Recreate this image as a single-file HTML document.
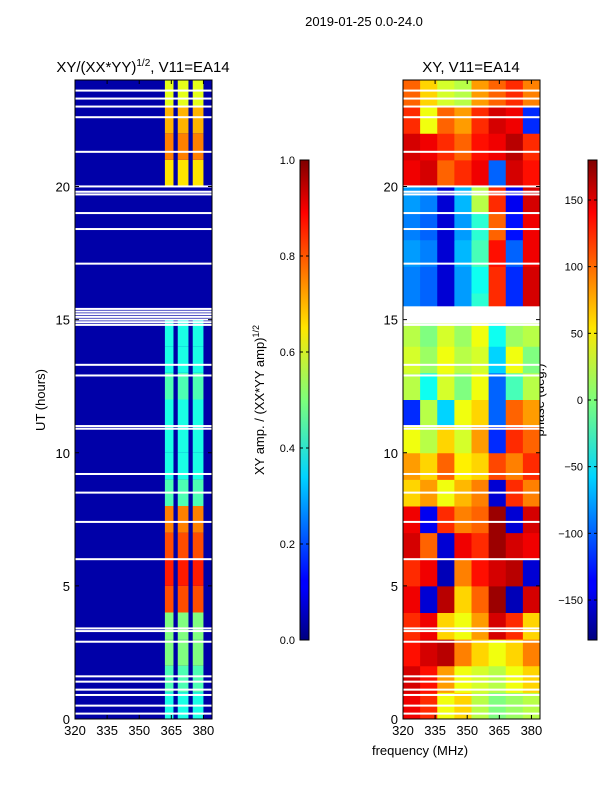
<!DOCTYPE html>
<html><head><meta charset="utf-8"><style>
body{margin:0;background:#fff;font-family:"Liberation Sans",sans-serif}
svg text{font-family:"Liberation Sans",sans-serif;fill:#000}
</style></head><body>
<svg id="fig" width="600" height="800" xmlns="http://www.w3.org/2000/svg">
<text x="364" y="26" font-size="13" text-anchor="middle">2019-01-25 0.0-24.0</text>
<text x="143" y="72" font-size="15" text-anchor="middle">XY/(XX*YY)<tspan font-size="10" dy="-6">1/2</tspan><tspan dy="6">, V11=EA14</tspan></text>
<text x="471" y="72" font-size="15" text-anchor="middle">XY, V11=EA14</text>
<text transform="translate(45,400) rotate(-90)" font-size="13" text-anchor="middle">UT (hours)</text>
<text x="420" y="755" font-size="13" text-anchor="middle">frequency (MHz)</text>
<text transform="translate(264,400) rotate(-90)" font-size="13" text-anchor="middle">XY amp. / (XX*YY amp)<tspan font-size="9" dy="-5">1/2</tspan></text>
<text transform="translate(544,400) rotate(-90)" font-size="13" text-anchor="middle">phase (deg.)</text>
<defs>
<linearGradient id="jet" x1="0" y1="1" x2="0" y2="0">
<stop offset="0" stop-color="#00007f"/><stop offset="0.11" stop-color="#0000ff"/><stop offset="0.125" stop-color="#0000ff"/>
<stop offset="0.34" stop-color="#00d4ff"/><stop offset="0.5" stop-color="#7dff7a"/><stop offset="0.65" stop-color="#ffe600"/>
<stop offset="0.89" stop-color="#ff0000"/><stop offset="1" stop-color="#7f0000"/></linearGradient>
</defs>
<g id="left"></g><g id="right"></g><g id="cbars"></g>
</svg>
<script>
const ampHours=[0,1,2,3,4,5,6,7,8,9,10,11,12,13,14,15,16,17,18,19,20,21,22,23];
const ampLevel=[0.4,0.45,0.5,0.5,0.8,0.85,0.8,0.75,0.45,0.4,0.4,0.4,0.45,0.4,0.4,0.04,0.04,0.04,0.04,0.04,0.65,0.75,0.7,0.6];
const ampStripeFreq=[[362,366],[368,373],[375,380]];
const ampBg=0.04;
const gapHours=[0.2,0.5,0.9,1.1,1.4,1.6,2.9,3.3,3.4,6.0,7.4,8.5,9.2,10.9,11.0,12.9,13.3,14.8,14.9,15.0,15.1,15.2,15.3,15.4,17.1,18.4,19.0,19.7,19.8,20.0,21.3,22.6,23.0,23.3,23.6];
const phaseFreq=[320,328,336,344,352,360,368,376,384];
const phaseRows=[
[140,120,40,60,20,0,10,20],[150,130,80,40,30,20,40,60],[130,150,160,90,60,40,60,90],[120,140,60,40,80,150,120,60],
[140,-150,160,60,100,170,-160,150],[120,140,-160,90,130,150,160,-150],[150,100,-150,140,120,170,150,140],[140,-140,120,90,100,170,-150,150],
[60,80,40,70,90,-150,120,90],[80,60,100,50,60,110,90,120],[40,20,60,30,80,-120,120,100],[-120,20,-60,40,60,-100,100,80],
[20,-40,30,0,40,-100,-20,20],[30,10,40,20,30,-60,40,0],[20,0,30,10,40,-40,10,20],[-90,-100,-150,-80,-30,120,-120,150],
[-90,-100,-150,-80,-40,120,-120,150],[-80,-90,-150,-70,-20,130,-100,140],[-90,-100,-150,-80,-30,100,-130,140],[-80,-90,-150,-70,20,120,-140,150],
[140,150,100,120,140,-100,150,130],[150,140,120,100,130,140,160,120],[120,40,100,80,120,150,140,-120],[100,60,30,20,80,100,120,90]];
const phaseGapFrom=14.85, phaseGapTo=15.5;
const xTicks=[320,335,350,365,380];
const yTicks=[0,5,10,15,20];
const ampTicks=[0.0,0.2,0.4,0.6,0.8,1.0];
const phaseTicks=[-150,-100,-50,0,50,100,150];

const NS="http://www.w3.org/2000/svg";
const T=80,B=719,FMIN=320,FMAX=384;
const yS=h=>B-(h/24)*(B-T);
function jet(v){v=Math.max(0,Math.min(1,v));
 const r=Math.max(0,Math.min(1,1.5-Math.abs(4*v-3))),g=Math.max(0,Math.min(1,1.5-Math.abs(4*v-2))),b=Math.max(0,Math.min(1,1.5-Math.abs(4*v-1)));
 return `rgb(${Math.round(r*255)},${Math.round(g*255)},${Math.round(b*255)})`;}
function mk(p,tag,a){const e=document.createElementNS(NS,tag);for(const k in a)e.setAttribute(k,a[k]);p.appendChild(e);return e;}
function axes(g,L,R,name){
 const xS=f=>L+(f-FMIN)/(FMAX-FMIN)*(R-L);
 gapHours.forEach(h=>{const r=mk(g,'rect',{x:L,y:yS(h+0.04),width:R-L,height:2,fill:'#fff'});
  });
 const f=mk(g,'rect',{x:L,y:T,width:R-L,height:B-T,fill:'none',stroke:'#000','stroke-width':1});
 
 xTicks.forEach(t=>{const x=xS(t);mk(g,'line',{x1:x,x2:x,y1:B,y2:B-4,stroke:'#000'});mk(g,'line',{x1:x,x2:x,y1:T,y2:T+4,stroke:'#000'});
  const tx=mk(g,'text',{x:x,y:B+16,'font-size':13,'text-anchor':'middle'});tx.textContent=t;
  });
 yTicks.forEach(t=>{const y=yS(t);mk(g,'line',{x1:L,x2:L+4,y1:y,y2:y,stroke:'#000'});mk(g,'line',{x1:R,x2:R-4,y1:y,y2:y,stroke:'#000'});
  const tx=mk(g,'text',{x:L-5,y:y+5,'font-size':13,'text-anchor':'end'});tx.textContent=t;
  });
 return xS;}
(function(){const g=document.getElementById('left');const L=75,R=212;const xS=f=>L+(f-FMIN)/(FMAX-FMIN)*(R-L);
 const bg=mk(g,'rect',{x:L,y:T,width:R-L,height:B-T,fill:jet(ampBg)});
 
 ampHours.forEach((h,i)=>{ampStripeFreq.forEach(s=>{const r=mk(g,'rect',{x:xS(s[0]),y:yS(h+1),width:xS(s[1])-xS(s[0]),height:yS(h)-yS(h+1),fill:jet(ampLevel[i])});
  });});
 axes(g,L,R,'amp-panel');})();
(function(){const g=document.getElementById('right');const L=403,R=540;const xS=f=>L+(f-FMIN)/(FMAX-FMIN)*(R-L);
 phaseRows.forEach((row,h)=>{row.forEach((v,j)=>{const r=mk(g,'rect',{x:xS(phaseFreq[j]),y:yS(h+1),width:xS(phaseFreq[j+1])-xS(phaseFreq[j])+0.5,height:yS(h)-yS(h+1)+0.5,fill:jet((v+180)/360)});
  });});
 const gp=mk(g,'rect',{x:L,y:yS(phaseGapTo),width:R-L,height:yS(phaseGapFrom)-yS(phaseGapTo),fill:'#fff'});
 
 axes(g,L,R,'phase-panel');})();
(function(){const g=document.getElementById('cbars');const CT=160,CB=640;
 function cb(x,ticks,mn,mx,name,fmt){const r=mk(g,'rect',{x:x,y:CT,width:9,height:CB-CT,fill:'url(#jet)',stroke:'#000'});
  
  ticks.forEach(t=>{const y=CB-(t-mn)/(mx-mn)*(CB-CT);mk(g,'line',{x1:x,x2:x+3,y1:y,y2:y,stroke:'#000'});mk(g,'line',{x1:x+9,x2:x+6,y1:y,y2:y,stroke:'#000'});
   const tx=mk(g,'text',{x:x-5,y:y+4,'font-size':11,'text-anchor':'end'});tx.textContent=fmt(t);
   });}
 cb(300,ampTicks,0,1,'amp-colorbar',t=>t.toFixed(1));
 cb(588,phaseTicks,-180,180,'phase-colorbar',t=>t<0?'\u2212'+(-t):''+t);})();
</script>
</body></html>
